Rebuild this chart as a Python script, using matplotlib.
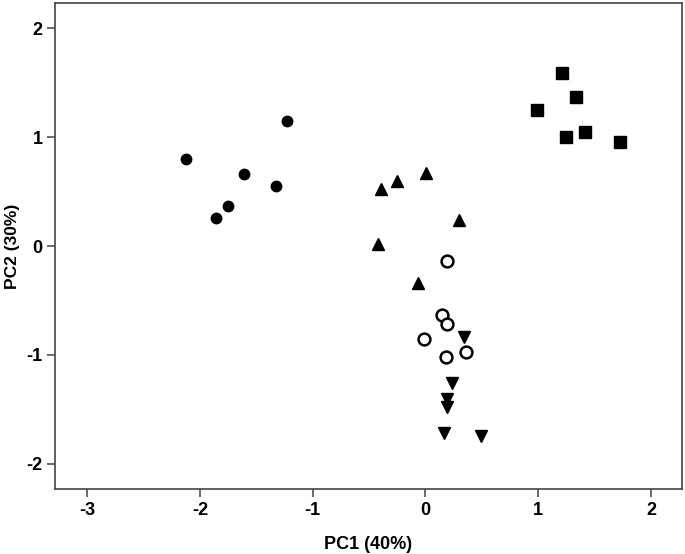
import matplotlib
matplotlib.use('Agg')
import matplotlib.pyplot as plt

# group scores on the first two principal components
dots_x = [-2.125, -1.230, -1.608, -1.324, -1.747, -1.854]
dots_y = [0.795, 1.150, 0.658, 0.548, 0.367, 0.254]

up_x = [-0.394, -0.252, 0.008, 0.295, -0.418, -0.063]
up_y = [0.523, 0.596, 0.672, 0.239, 0.018, -0.342]

ring_x = [0.194, 0.150, 0.189, -0.015, 0.360, 0.183]
ring_y = [-0.135, -0.633, -0.716, -0.850, -0.972, -1.016]

down_x = [0.342, 0.236, 0.191, 0.194, 0.165, 0.493]
down_y = [-0.832, -1.260, -1.404, -1.474, -1.713, -1.743]

sq_x = [1.208, 1.335, 0.992, 1.244, 1.418, 1.728]
sq_y = [1.587, 1.370, 1.248, 1.003, 1.049, 0.957]

x_ticks = [-3, -2, -1, 0, 1, 2]
y_ticks = [-2, -1, 0, 1, 2]

plt.rcParams['font.family'] = ['Liberation Sans', 'DejaVu Sans']
plt.rcParams['axes.unicode_minus'] = False

fig = plt.figure(figsize=(6.85, 5.54), dpi=100)
ax = fig.add_axes([0.0803, 0.1173, 0.9153, 0.8773])

ax.plot(dots_x, dots_y, 'o', color='black', markersize=7.5, linestyle='none')
ax.plot(up_x, up_y, '^', color='black', markersize=8.5, linestyle='none')
ax.plot(ring_x, ring_y, 'o', markerfacecolor='white', markeredgecolor='black',
        markeredgewidth=1.8, markersize=8.5, linestyle='none')
ax.plot(down_x, down_y, 'v', color='black', markersize=8.5, linestyle='none')
ax.plot(sq_x, sq_y, 's', color='black', markersize=8, linestyle='none')

ax.set_xlim(-3.284, 2.275)
ax.set_ylim(-2.23, 2.23)
ax.set_xticks(x_ticks)
ax.set_yticks(y_ticks)
ax.tick_params(axis='both', direction='out', length=6, width=1.1, color='#444444',
               labelsize=13, pad=3)
for lab in ax.get_xticklabels() + ax.get_yticklabels():
    lab.set_fontweight('bold')
for sp in ax.spines.values():
    sp.set_color('#444444')
    sp.set_linewidth(1.2)

ax.set_xlabel('PC1 (40%)', fontsize=13, fontweight='bold')
ax.set_ylabel('PC2 (30%)', fontsize=12.5, fontweight='bold')
ax.xaxis.set_label_coords(0.5, -0.096)
ax.yaxis.set_label_coords(-0.056, 0.5)

fig.savefig('out.png', dpi=100)
